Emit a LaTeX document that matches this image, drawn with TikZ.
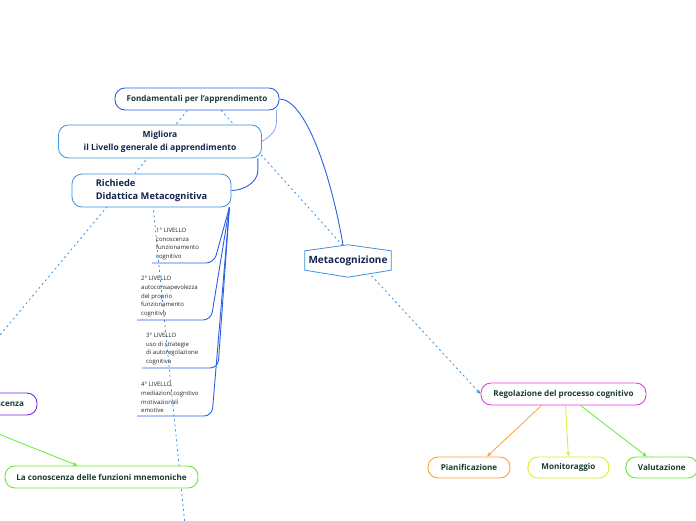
\documentclass[tikz,border=0pt]{standalone}
\usepackage{fontspec}
\setmainfont{Open Sans}
\usetikzlibrary{arrows.meta,positioning,backgrounds}

\definecolor{mmblue}{RGB}{40,95,230}
\definecolor{mmsky}{RGB}{60,145,225}
\definecolor{mmpale}{RGB}{140,165,235}
\definecolor{mmtext}{RGB}{25,60,45}
\definecolor{mmnavy}{RGB}{20,35,75}
\definecolor{mmorange}{RGB}{255,160,50}
\definecolor{mmlime}{RGB}{215,240,40}
\definecolor{mmgreen}{RGB}{100,235,45}
\definecolor{mmmagenta}{RGB}{225,60,225}
\definecolor{mmpurple}{RGB}{115,40,230}

\begin{document}
\begin{tikzpicture}[
  x=1pt, y=1pt,
  topic/.style={draw, fill=white, rounded corners=10pt, line width=0.9pt, align=center, inner sep=0pt, text=mmtext, font=\bfseries\fontsize{8.1}{11}\selectfont},
  main/.style={topic, draw=mmsky, line width=0.8pt, text=mmnavy, font=\bfseries\fontsize{9.3}{13}\selectfont},
  level/.style={anchor=south west, align=left, inner xsep=4pt, inner ysep=3pt, text=black!85, font=\fontsize{6}{8.6}\selectfont},
  link/.style={mmsky, line width=0.8pt, dash pattern=on 2pt off 3pt},
  branch/.style={mmblue, line width=0.9pt},
  arr/.style={-{Stealth[length=5pt,width=4pt]}, line width=0.8pt}
]
\useasboundingbox (0,0) rectangle (696,-520);

\node[topic, draw=mmblue, minimum width=164pt, minimum height=22pt] (fond) at (197,-99) {Fondamentali per l'apprendimento};
\node[main, minimum width=203pt, minimum height=33pt, font=\bfseries\fontsize{8.5}{13}\selectfont] (mig) at (160,-141.5) {Migliora\\il Livello generale di apprendimento};
\node[main, minimum width=159pt, minimum height=33pt, align=left] (rich) at (151.5,-190.5) {Richiede\\Didattica Metacognitiva};
\node[minimum width=86pt, minimum height=32pt, text=mmnavy, font=\bfseries\fontsize{10}{12}\selectfont] (meta) at (348,-261) {Metacognizione};

\node[topic, draw=mmmagenta, minimum width=165pt, minimum height=22pt] (reg) at (563.5,-394) {Regolazione del processo cognitivo};
\node[topic, draw=mmorange, minimum width=82pt, minimum height=21pt] (pian) at (469,-467.5) {Pianificazione};
\node[topic, draw=mmlime, minimum width=81pt, minimum height=21pt, right=17pt of pian] (mon) {Monitoraggio};
\node[topic, draw=mmgreen, minimum width=72pt, minimum height=21pt, right=16pt of mon] (val) {Valutazione};

\node[topic, draw=mmpurple, minimum width=170pt, minimum height=22pt, text width=144pt, align=right] (meco) at (-48,-404) {Metaconoscenza};
\node[topic, draw=mmgreen, minimum width=193pt, minimum height=22pt] (mnem) at (101.5,-477) {La conoscenza delle funzioni mnemoniche};

\node[level] (lv1) at (152,-263) {1° LIVELLO\\conoscenza\\funzionamento\\cognitivo};
\node[level] (lv2) at (137,-320) {2° LIVELLO\\autoconsapevolezza\\del proprio\\funzionamento\\cognitivo};
\node[level] (lv3) at (142,-368) {3° LIVELLO\\uso di strategie\\di autoregolazione\\cognitiva};
\node[level] (lv4) at (137,-416) {4° LIVELLO\\mediazioni cognitivo\\motivazionali\\emotive};
\coordinate (hub) at ([xshift=-2pt]rich.south east);
\coordinate (sdown) at (187,-545);

\begin{scope}[on background layer]
  \draw[link] (fond.center) -- (meco.north);
  \draw[link] ([xshift=14pt]fond.center) -- ([xshift=-6pt]meta.north);
  \draw[link] (rich.center) -- (sdown);
  \draw[link, -{Stealth[length=5pt,width=4pt]}] ([xshift=10pt]meta.center) -- (reg.west);
  \draw[mmsky, line width=0.8pt, fill=white] ([yshift=-6pt]meta.north west) -- (meta.north) -- ([yshift=-6pt]meta.north east)
    -- ([yshift=7pt]meta.south east) -- (meta.south) -- ([yshift=7pt]meta.south west) -- cycle;
\end{scope}

\draw[branch] (fond.east) .. controls +(25,0) and +(-13,75) .. ([xshift=-5pt]meta.north);
\draw[mmpale, line width=0.8pt] ([xshift=-3pt]fond.south east) -- ++(0,-11) .. controls +(0,-10) and +(8,5) .. (mig.east);
\draw[branch] ([xshift=-4pt]mig.south east) -- ++(0,-12) .. controls +(0,-12) and +(12,0) .. (rich.east);

\draw[branch, rounded corners=8pt] (hub) -- ([xshift=62pt]lv1.south west) -- (lv1.south west);
\draw[branch, rounded corners=8pt] (hub) -- ([xshift=74pt]lv2.south west) -- (lv2.south west);
\draw[branch, rounded corners=8pt] (hub) -- ([xshift=76pt]lv3.south west) -- (lv3.south west);
\draw[branch, rounded corners=8pt] (hub) -- ([xshift=75pt]lv4.south west) -- (lv4.south west);

\draw[arr, mmorange] ([xshift=-22pt]reg.south) -- ([xshift=18pt]pian.north);
\draw[arr, mmlime] ([xshift=2pt]reg.south) -- (mon.north);
\draw[arr, mmgreen] ([xshift=17pt]reg.south) -- ([xshift=-15pt]val.north);
\draw[arr, mmgreen] (meco.south) -- ([xshift=-24pt]mnem.north);
\end{tikzpicture}
\end{document}
